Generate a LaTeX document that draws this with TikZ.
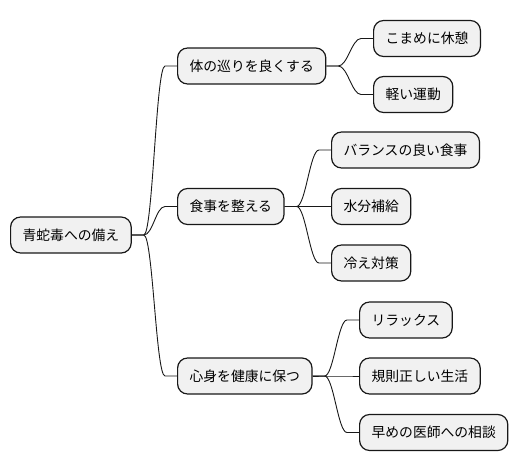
\documentclass[tikz,border=0pt]{standalone}
\usepackage{fontspec}
\setmainfont{Noto Sans CJK JP}
\definecolor{boxfill}{HTML}{F1F1F1}
\definecolor{ink}{HTML}{181818}
\newcommand{\gap}{12pt}
\tikzset{topic/.style={draw=ink,fill=boxfill,line width=1.2pt,rounded corners=10pt,
    anchor=west,minimum height=36pt,inner xsep=12pt,inner ysep=0pt,
    font=\fontsize{13.8pt}{16pt}\selectfont},
  branch/.style={draw=ink,line width=0.9pt}}
\begin{document}
\begin{tikzpicture}[x=1pt,y=-1pt]
    \useasboundingbox (0,0) rectangle (516,471);
    % root and first level
    \node[topic] (root) at (10,235) {青蛇毒への備え};
    \node[topic] (flow) at (177,66) {体の巡りを良くする};
    \node[topic] (meal) at (177,206.5) {食事を整える};
    \node[topic] (mind) at (177,376) {心身を健康に保つ};
    % second level
    \node[topic] (rest) at (373,38.5) {こまめに休憩};
    \node[topic] (move) at (373,94.5) {軽い運動};
    \node[topic] (diet) at (331,150) {バランスの良い食事};
    \node[topic] (water) at (331,206.5) {水分補給};
    \node[topic] (cold) at (331,263) {冷え対策};
    \node[topic] (relax) at (359,320) {リラックス};
    \node[topic] (life) at (359,376) {規則正しい生活};
    \node[topic] (doctor) at (359,432.5) {早めの医師への相談};
    % connectors
    \foreach \from/\to in {root/flow, root/meal, root/mind,
        flow/rest, flow/move, meal/diet, meal/water, meal/cold,
        mind/relax, mind/life, mind/doctor}
    \draw[branch] (\from.east) -- ++(\gap,0)
        .. controls +(9,0) and +(-9,0) .. ([xshift=-\gap]\to.west) -- (\to.west);
\end{tikzpicture}
\end{document}
